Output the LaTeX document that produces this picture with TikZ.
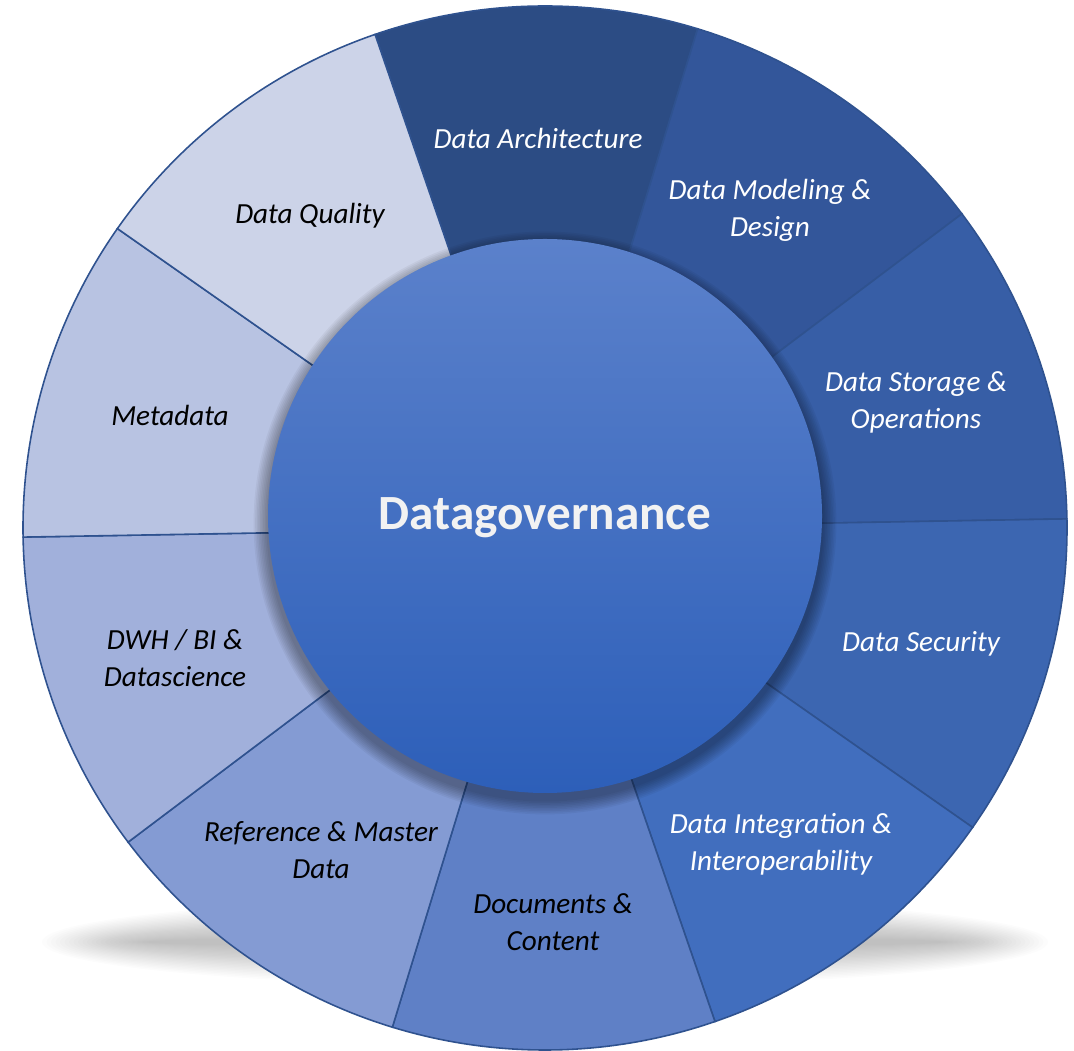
\documentclass[tikz,border=0pt]{standalone}
\usepackage{fontspec}
\setmainfont{Carlito}
\usepackage{tikz}
\usetikzlibrary{positioning}

\definecolor{segA}{HTML}{2C4C84}
\definecolor{segB}{HTML}{33569A}
\definecolor{segC}{HTML}{375EA6}
\definecolor{segD}{HTML}{3C66B1}
\definecolor{segE}{HTML}{416EBE}
\definecolor{segF}{HTML}{5F80C6}
\definecolor{segG}{HTML}{849BD3}
\definecolor{segH}{HTML}{A1B0DB}
\definecolor{segI}{HTML}{B8C3E2}
\definecolor{segJ}{HTML}{CCD3E8}
\definecolor{ringedge}{HTML}{2F528F}
\definecolor{circtop}{HTML}{5B81CB}
\definecolor{circbot}{HTML}{2D5FB9}
\definecolor{titletext}{HTML}{F2F2F2}

\tikzset{
	ring line/.style={draw=ringedge, line width=0.45pt},
	seglabel/.style={align=center, font=\fontsize{8.3}{10.5}\selectfont\itshape},
	light/.style={seglabel, text=white},
	dark/.style={seglabel, text=black},
}

\begin{document}
\begin{tikzpicture}[x=0.1mm, y=0.1mm]
	\useasboundingbox (-545,-523) rectangle (529,528);
	%
	% soft shadow under the wheel
	\foreach \k in {1,...,24}
		\fill[black, opacity=0.011] (0,-414) ellipse ({395+4.5*\k} and {4+1.7*\k});
	%
	% the ten sectors of the ring
	\foreach \a/\col in {73/segA, 37/segB, 1/segC, -35/segD, -71/segE, -107/segF, -143/segG, 181/segH, 145/segI, 109/segJ}
		\draw[ring line, fill=\col] (0,0) -- (\a:522) arc[start angle=\a, end angle=\a+36, radius=522] -- cycle;
	%
	% hub with its shadow
	\foreach \k in {1,...,9}
		\fill[black, opacity=0.045] (0,5) circle ({277+1.6*\k});
	\shade[top color=circtop, bottom color=circbot] (0,12) circle (277);
	\node[font=\fontsize{14}{17}\selectfont\bfseries, text=titletext] (gov) at (0,10) {Datagovernance};
	%
	% sector labels
	\node[light] (arch)  at (-7,390)   {Data Architecture};
	\node[light] (model) at (225,318)  {Data Modeling \&\\Design};
	\node[light] (store) at (371,126)  {Data Storage \&\\Operations};
	\node[light] (secur) at (376,-116) {Data Security};
	\node[light] (integ) at (236,-316) {Data Integration \&\\Interoperability};
	%
	\node[dark] (docs) at (8,-394)    {Documents \&\\Content};
	\node[dark] (refm) at (-224,-322) {Reference \& Master\\Data};
	\node[dark] (dwh)  at (-370,-130) {DWH / BI \&\\Datascience};
	\node[dark] (meta) at (-375,113)  {Metadata};
	\node[dark] (qual) at (-235,312)  {Data Quality};
\end{tikzpicture}
\end{document}
